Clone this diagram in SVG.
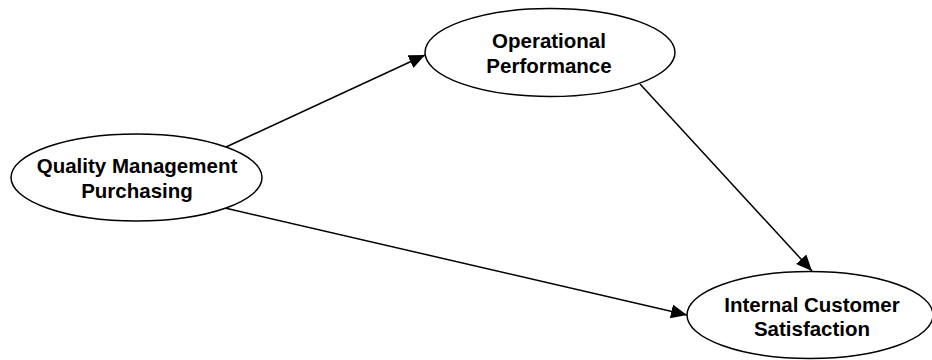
<svg xmlns="http://www.w3.org/2000/svg" width="932" height="360" viewBox="0 0 932 360">
  <style>
    .node ellipse { fill: #ffffff; stroke: #000000; stroke-width: 1.5; }
    .node text { font-family: "Liberation Sans", Arial, sans-serif; font-weight: bold; font-size: 20.5px; fill: #000000; text-anchor: middle; }
    .edge { stroke: #000000; stroke-width: 1.5; fill: none; marker-end: url(#arrow); }
  </style>
  <defs>
    <marker id="arrow" markerUnits="userSpaceOnUse" markerWidth="17" markerHeight="14" refX="16" refY="7" orient="auto">
      <path d="M0,0 L16,7 L0,14 z" fill="#000000"/>
    </marker>
  </defs>
  <rect width="932" height="360" fill="#ffffff"/>

  <g id="connectors">
    <line class="edge" x1="226" y1="147" x2="425" y2="55"/>
    <line class="edge" x1="640" y1="84" x2="812" y2="271"/>
    <line class="edge" x1="225" y1="208" x2="687" y2="315"/>
  </g>

  <g id="node-qmp" class="node">
    <ellipse cx="136.5" cy="177.5" rx="125.5" ry="43.5"/>
    <text x="137" y="173">Quality Management</text>
    <text x="137" y="198">Purchasing</text>
  </g>

  <g id="node-op" class="node">
    <ellipse cx="550" cy="52.5" rx="125" ry="44"/>
    <text x="549" y="48">Operational</text>
    <text x="549" y="73">Performance</text>
  </g>

  <g id="node-ics" class="node">
    <ellipse cx="810" cy="315" rx="123" ry="43.5"/>
    <text x="812" y="311.5">Internal Customer</text>
    <text x="812" y="336">Satisfaction</text>
  </g>
</svg>
